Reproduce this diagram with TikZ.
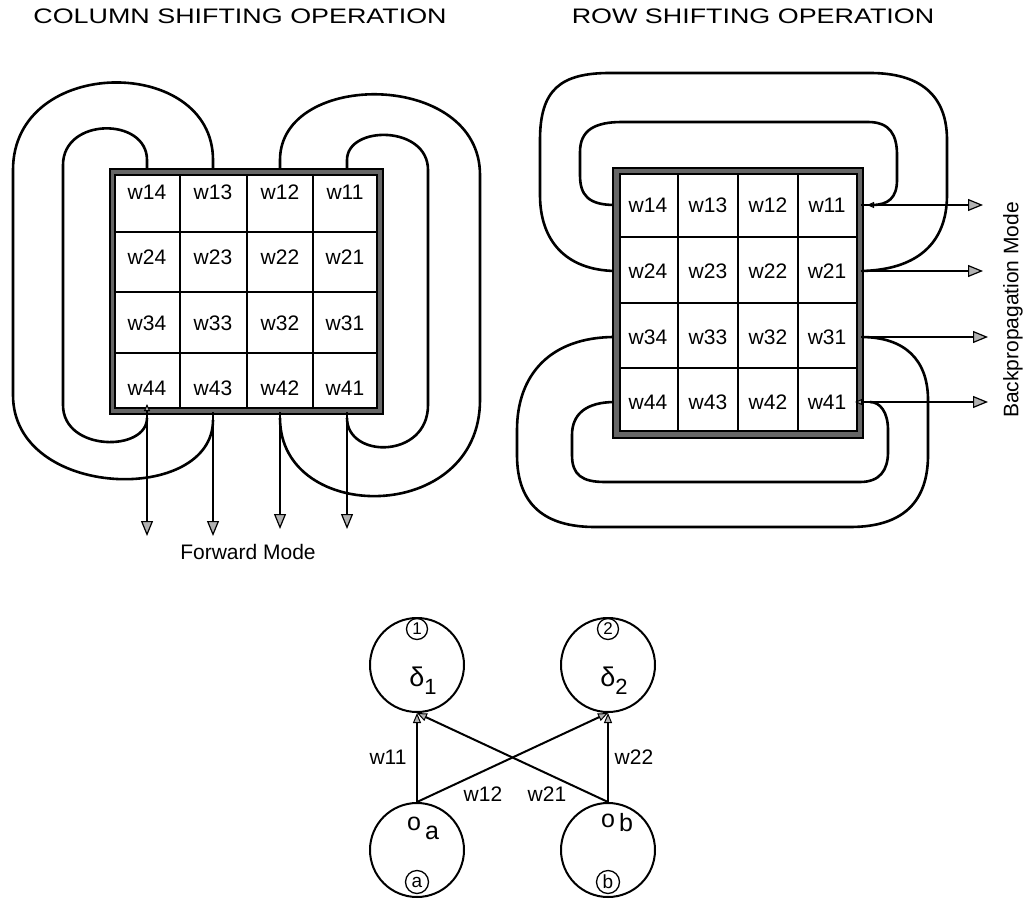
\documentclass[tikz,border=0pt]{standalone}
\usepackage{fontspec}
\setmainfont{Liberation Sans}
\usetikzlibrary{arrows.meta}
\tikzset{
  loopline/.style={line width=2.6pt},
  gridline/.style={line width=1.6pt},
  wlabel/.style={font=\fontsize{21}{23}\selectfont, inner sep=0pt},
  title/.style={font=\fontsize{21}{23}\selectfont, inner sep=0pt},
  outarrow/.style={line width=2.2pt,
    -{Triangle[length=15pt,width=12pt,fill=gray!60,line width=1.2pt]}},
  intip/.style={-{Triangle[length=7pt,width=6pt,fill=gray!60,line width=1pt]}},
  neuron/.style={circle, draw, line width=2pt, minimum size=94pt, inner sep=0pt},
  tag/.style={circle, draw, line width=1.3pt, minimum size=21pt, inner sep=0pt,
    font=\fontsize{17}{18}\selectfont},
  synapse/.style={line width=2pt,
    -{Triangle[length=10pt,width=8pt,fill=gray!60,line width=1pt]}},
}
\newcommand{\weightframe}[4]{%
  \fill[black!60] (#1,#2) rectangle (#3,#4);
  \draw[line width=1.3pt] (#1,#2) rectangle (#3,#4);}
\begin{document}
\begin{tikzpicture}[x=1pt,y=-1pt]
\useasboundingbox (0,0) rectangle (1027,901);

% ---------- titles ----------
\node[title] (tcol) at (240,16) {\scalebox{1.28}[1]{COLUMN SHIFTING OPERATION}};
\node[title] (trow) at (753,16) {\scalebox{1.28}[1]{ROW SHIFTING OPERATION}};

% ================= column shifting =================
% feedback loops (drawn first, the frame covers their ends)
\coordinate (lt1) at (147,172); \coordinate (lt2) at (213,172);
\coordinate (lt3) at (280,172); \coordinate (lt4) at (347,172);
\draw[loopline] (lt1) -- (147,160) .. controls (147,117) and (63,117) .. (63,165)
  -- (63,405) .. controls (63,452) and (147,452) .. (147,418);
\draw[loopline] (lt2) -- (213,160) .. controls (213,55) and (13,55) .. (13,170)
  -- (13,395) .. controls (13,500) and (213,505) .. (213,420);
\draw[loopline] (lt3) -- (280,160) .. controls (280,70) and (480,70) .. (480,175)
  -- (480,400) .. controls (480,525) and (280,525) .. (280,418);
\draw[loopline] (lt4) -- (347,160) .. controls (347,125) and (428,125) .. (428,170)
  -- (428,405) .. controls (428,459) and (347,459) .. (347,418);

% frame and grid
\weightframe{110}{169}{383}{414}
\fill[white] (115,175) rectangle (377,408);
\draw[line width=1.3pt] (115,175) rectangle (377,408);
\foreach \x in {180,247,313} \draw[gridline] (\x,175) -- (\x,408);
\foreach \y in {232,292,353} \draw[gridline] (115,\y) -- (377,\y);

\foreach \r/\y in {1/192,2/257,3/323,4/388}
  \foreach \c/\x in {4/147,3/213,2/280,1/345}
    \node[wlabel] (L\r\c) at (\x,\y) {w\r\c};

% outputs, forward mode
\coordinate (lb1) at (147,412); \coordinate (lb2) at (213,412);
\coordinate (lb3) at (280,412); \coordinate (lb4) at (347,412);
\coordinate (fo1) at (147,536); \coordinate (fo2) at (213,536);
\coordinate (fo3) at (280,529); \coordinate (fo4) at (347,529);
\foreach \i in {1,...,4} \draw[outarrow] (lb\i) -- (fo\i);
\draw[intip, line width=1.3pt] (147,418) -- (147,404);
\node[wlabel] (fwd) at (248,552) {Forward Mode};

% ================= row shifting =================
\coordinate (rl1) at (615,205); \coordinate (rl2) at (615,271);
\coordinate (rl3) at (615,337); \coordinate (rl4) at (615,402);
\coordinate (rr1) at (861,205); \coordinate (rr2) at (861,271);
\coordinate (rr3) at (861,337); \coordinate (rr4) at (861,402);

\draw[loopline] (rl1) .. controls (588,205) and (580,195) .. (580,175)
  -- (580,152) .. controls (580,130) and (595,122) .. (622,122)
  -- (868,122) .. controls (890,122) and (897,135) .. (897,155)
  -- (897,180) .. controls (897,198) and (888,205) .. (872,205);
\draw[loopline] (rl2) .. controls (565,270) and (540,240) .. (540,195)
  -- (540,140) .. controls (540,90) and (560,73) .. (610,73)
  -- (870,73) .. controls (920,73) and (947,95) .. (947,140)
  -- (947,195) .. controls (947,245) and (915,270) .. (rr2);
\draw[loopline] (rl3) .. controls (550,337) and (517,375) .. (517,430)
  -- (517,455) .. controls (517,505) and (545,527) .. (595,527)
  -- (850,527) .. controls (905,527) and (928,500) .. (928,455)
  -- (928,400) .. controls (928,360) and (905,337) .. (rr3);
\draw[loopline] (rl4) .. controls (585,402) and (572,415) .. (572,435)
  -- (572,455) .. controls (572,475) and (582,482) .. (605,482)
  -- (860,482) .. controls (880,482) and (888,470) .. (888,452)
  -- (888,430) .. controls (888,412) and (880,402) .. (870,402);

\weightframe{613}{168}{863}{438}
\fill[white] (620,174) rectangle (857,431);
\draw[line width=1.3pt] (620,174) rectangle (857,431);
\foreach \x in {678,738,798} \draw[gridline] (\x,174) -- (\x,431);
\foreach \y in {237,303,368} \draw[gridline] (620,\y) -- (857,\y);

\foreach \r/\y in {1/205,2/271,3/337,4/402}
  \foreach \c/\x in {4/648,3/708,2/768,1/827}
    \node[wlabel] (R\r\c) at (\x,\y) {w\r\c};

% small entry tips of the loops
\draw[intip, line width=1.3pt] (882,205) -- (867,205);
\draw[intip, line width=1.3pt] (870,402) -- (855,402);

% outputs, backpropagation mode
\coordinate (bo1) at (983,205); \coordinate (bo2) at (983,271);
\coordinate (bo3) at (988,337); \coordinate (bo4) at (988,402);
\foreach \i in {1,...,4} \draw[outarrow] (rr\i) -- (bo\i);
\node[wlabel, rotate=90] (bpm) at (1013,310) {Backpropagation Mode};

% ================= two-unit network =================
\node[neuron] (d1) at (417,665) {};
\node[neuron] (d2) at (608,665) {};
\node[neuron] (na) at (417,850) {};
\node[neuron] (nb) at (608,850) {};

\node[tag] (t1) at (417,629) {1};
\node[tag] (t2) at (608,629) {2};
\node[tag, minimum size=23pt, font=\fontsize{19}{20}\selectfont] (ta) at (417,882) {a};
\node[tag, minimum size=23pt, font=\fontsize{19}{20}\selectfont] (tb) at (608,882) {b};

\node[inner sep=0pt] (del1) at (423,681)
  {\fontsize{27}{29}\selectfont δ\raisebox{-8pt}{\fontsize{22}{24}\selectfont 1}};
\node[inner sep=0pt] (del2) at (614,681)
  {\fontsize{27}{29}\selectfont δ\raisebox{-8pt}{\fontsize{22}{24}\selectfont 2}};
\node[inner sep=0pt] (oa) at (423,828)
  {\fontsize{25}{27}\selectfont o\,\raisebox{-9pt}{a}};
\node[inner sep=0pt] (ob) at (617,823)
  {\fontsize{25}{27}\selectfont o\,\raisebox{-4pt}{b}};

\draw[synapse] (na.north) -- (d1.south);
\draw[synapse] (na.north) -- (d2.south);
\draw[synapse] (nb.north) -- (d1.south);
\draw[synapse] (nb.north) -- (d2.south);

\node[wlabel] (l11) at (388,757) {w11};
\node[wlabel] (l22) at (634,757) {w22};
\node[wlabel] (l12) at (483,794) {w12};
\node[wlabel] (l21) at (547,794) {w21};
\end{tikzpicture}
\end{document}
